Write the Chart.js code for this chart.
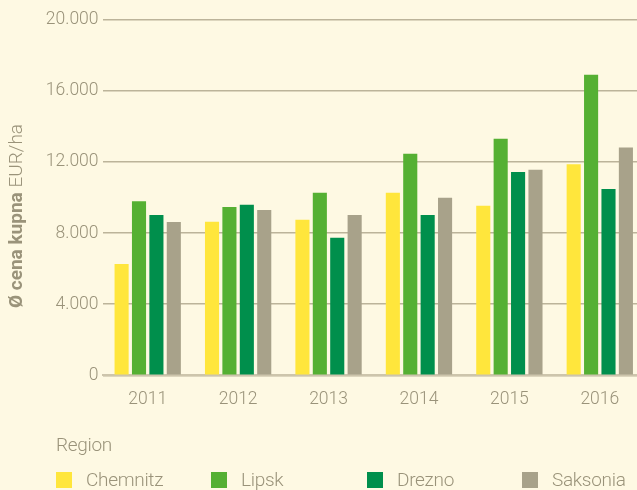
<!DOCTYPE html>
<html>
<head>
<meta charset="utf-8">
<script src="https://cdn.jsdelivr.net/npm/chart.js@4"></script>
<style>
  html, body { margin: 0; padding: 0; width: 637px; height: 490px; overflow: hidden; background: #fef9e3; }
  #wrap { position: relative; width: 637px; height: 490px; }
  canvas { position: absolute; left: 0; top: 0; }
  .lg { position: absolute; font-family: Roboto, sans-serif; font-weight: 300; color: #9a937a; font-size: 19px; line-height: 19px; letter-spacing: -0.3px; white-space: nowrap; }
  .sw { position: absolute; width: 16px; height: 16px; }
</style>
</head>
<body>
<div id="wrap">
  <canvas id="chart" width="650" height="490"></canvas>
  <div class="lg" style="left:56px; top:434.5px">Region</div>
  <div id="legendItems"></div>
</div>
<script>
const years = ['2011', '2012', '2013', '2014', '2015', '2016'];
const regions = ['Chemnitz', 'Lipsk', 'Drezno', 'Saksonia'];
const colors = ['#ffe63c', '#55b033', '#008f4c', '#a8a28a'];

const chemnitz = [6270, 8640, 8750, 10270, 9540, 11880];
const lipsk = [9800, 9480, 10270, 12470, 13310, 16920];
const drezno = [9020, 9600, 7740, 9030, 11450, 10480];
const saksonia = [8630, 9310, 9030, 10000, 11570, 12830];

const yTicks = [0, 4000, 8000, 12000, 16000, 20000];

const textColor = '#9a937a';
const gridColor = '#bcb49a';

// legend in html, fixed column spacing like the original
const legendX = [56, 211, 367, 522];
const legendBox = document.getElementById('legendItems');
regions.forEach((r, i) => {
  const sw = document.createElement('div');
  sw.className = 'sw';
  sw.style.left = legendX[i] + 'px';
  sw.style.top = '472px';
  sw.style.background = colors[i];
  legendBox.appendChild(sw);
  const t = document.createElement('div');
  t.className = 'lg';
  t.style.left = (legendX[i] + 30) + 'px';
  t.style.top = '469.5px';
  t.textContent = r;
  legendBox.appendChild(t);
});

// y axis title with bold + normal parts
const yTitle = {
  id: 'yTitle',
  afterDraw(chart) {
    const ctx = chart.ctx;
    const boldPart = 'Ø cena kupna ';
    const normalPart = 'EUR/ha';
    const boldFont = 'bold 19px Roboto, sans-serif';
    const normalFont = '300 19px Roboto, sans-serif';
    ctx.save();
    ctx.translate(17.5, 216);
    ctx.rotate(-Math.PI / 2);
    ctx.fillStyle = textColor;
    ctx.textBaseline = 'middle';
    ctx.font = boldFont;
    const w1 = ctx.measureText(boldPart).width;
    ctx.font = normalFont;
    const w2 = ctx.measureText(normalPart).width;
    const x = -(w1 + w2) / 2;
    ctx.font = boldFont;
    ctx.fillText(boldPart, x, 0);
    ctx.font = normalFont;
    ctx.fillText(normalPart, x + w1, 0);
    ctx.restore();
  }
};

const seriesData = [chemnitz, lipsk, drezno, saksonia];

new Chart(document.getElementById('chart').getContext('2d'), {
  type: 'bar',
  data: {
    labels: years,
    datasets: regions.map((r, i) => ({
      label: r,
      data: seriesData[i],
      backgroundColor: colors[i],
      borderWidth: 0,
      categoryPercentage: 0.77,
      barPercentage: 0.81
    }))
  },
  options: {
    responsive: false,
    animation: false,
    layout: { padding: { top: 20, right: 5, left: 0, bottom: 0 } },
    plugins: {
      legend: { display: false },
      tooltip: { enabled: false }
    },
    scales: {
      x: {
        afterFit: s => { s.height = 114.7; },
        grid: { display: false },
        border: { display: true, color: '#cdc5ac', width: 2 },
        ticks: {
          color: textColor,
          padding: 6,
          font: { family: 'Roboto, sans-serif', size: 17.5, weight: 300 }
        }
      },
      y: {
        min: 0,
        max: 20000,
        afterFit: s => { s.width = 102.5; },
        afterBuildTicks: s => { s.ticks = yTicks.map(v => ({ value: v })); },
        border: { display: false },
        grid: {
          color: gridColor,
          lineWidth: 1.5,
          drawTicks: false
        },
        ticks: {
          color: textColor,
          padding: 4,
          font: { family: 'Roboto, sans-serif', size: 17.5, weight: 300 },
          callback: v => v === 0 ? '0' : v.toLocaleString('de-DE')
        }
      }
    }
  },
  plugins: [yTitle]
});
</script>
</body>
</html>
